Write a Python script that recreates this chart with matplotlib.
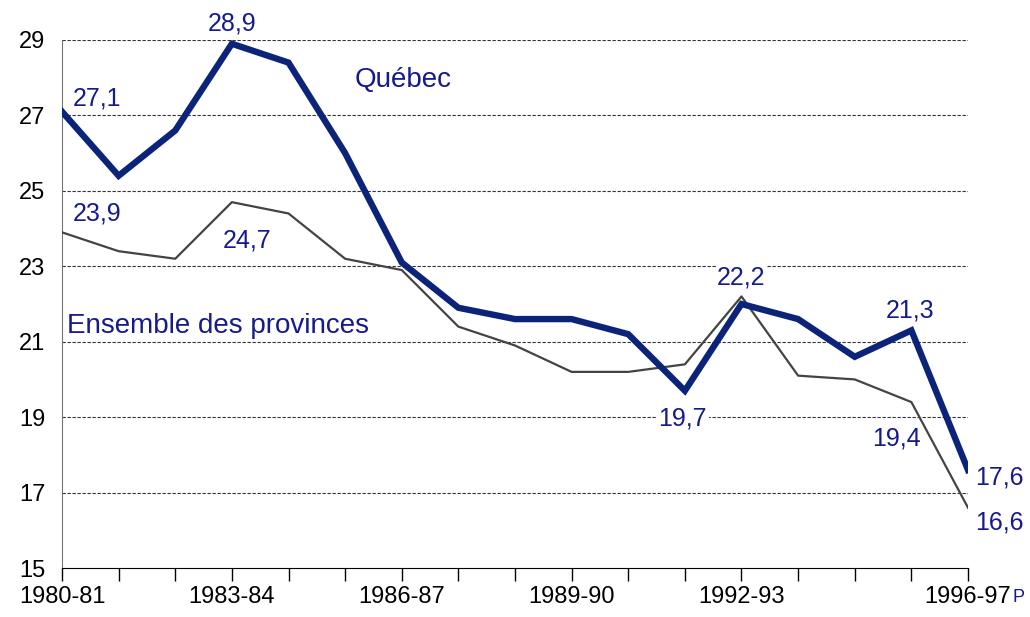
import matplotlib
matplotlib.use("Agg")
import matplotlib.pyplot as plt
import numpy as np

plt.rcParams['font.family'] = ['Liberation Sans', 'DejaVu Sans']

# données
annees = ['1980-81', '1981-82', '1982-83', '1983-84', '1984-85', '1985-86',
          '1986-87', '1987-88', '1988-89', '1989-90', '1990-91', '1991-92',
          '1992-93', '1993-94', '1994-95', '1995-96', '1996-97']
quebec = [27.1, 25.4, 26.6, 28.9, 28.4, 26.0, 23.1, 21.9, 21.6, 21.6,
          21.2, 19.7, 22.0, 21.6, 20.6, 21.3, 17.6]
ensemble = [23.9, 23.4, 23.2, 24.7, 24.4, 23.2, 22.9, 21.4, 20.9, 20.2,
            20.2, 20.4, 22.2, 20.1, 20.0, 19.4, 16.6]
tick_labels = ['1980-81', '', '', '1983-84', '', '', '1986-87', '', '',
               '1989-90', '', '', '1992-93', '', '', '', '1996-97']

navy_line = '#0b2479'
navy_text = '#161a8a'
gray_line = '#444444'

x = np.arange(len(annees))

fig = plt.figure(figsize=(10.3, 6.17), dpi=100)
ax = fig.add_axes([0.0602, 0.0794, 0.8796, 0.8558])

ax.plot(x, ensemble, color=gray_line, lw=1.6, zorder=3)
ax.plot(x, quebec, color=navy_line, lw=4.6, zorder=4, solid_joinstyle='miter')

ax.set_xlim(0, len(annees) - 1)
ax.set_ylim(15, 29)
ax.set_yticks(np.arange(15, 30, 2))
ax.set_xticks(x)
ax.set_xticklabels(tick_labels)

for y in range(17, 30, 2):
    ax.axhline(y, color='#333333', lw=0.8, ls=(0, (3, 1.5)), zorder=1)

for s in ['top', 'right']:
    ax.spines[s].set_visible(False)
ax.spines['left'].set_color('#777777')
ax.spines['bottom'].set_color('black')

ax.tick_params(axis='x', direction='out', length=9, width=1, pad=4,
               labelsize=17)
ax.tick_params(axis='y', length=0, pad=12, labelsize=17)

# étiquettes de valeurs
def lab(txt, i, v, dx, dy, bg=False, ha='center'):
    t = ax.annotate(txt, xy=(i, v), xytext=(dx, dy), textcoords='offset pixels',
                    ha=ha, va='center', fontsize=18, color=navy_text, zorder=5)
    if bg:
        t.set_bbox(dict(facecolor='white', edgecolor='none', pad=1))

lab('27,1', 0, quebec[0], 35, 13)
lab('28,9', 3, quebec[3], 0, 20)
lab('23,9', 0, ensemble[0], 35, 19)
lab('24,7', 3, ensemble[3], 15, -38)
lab('22,2', 12, ensemble[12], 0, 19, bg=True)
lab('19,7', 11, quebec[11], -2, -28, bg=True)
lab('21,3', 15, quebec[15], -1, 20)
lab('19,4', 15, ensemble[15], -15, -36)
lab('17,6', 16, quebec[16], 31, -8)
lab('16,6', 16, ensemble[16], 31, -15)

ax.text(0.376, 0.924, 'Québec', transform=ax.transAxes, fontsize=20,
        color=navy_text, ha='center', va='center')
ax.text(0.005, 0.458, 'Ensemble des provinces', transform=ax.transAxes,
        fontsize=20, color=navy_text, ha='left', va='center')
fig.text(1012 / 1030, 1 - 598 / 617, 'P', fontsize=13,
         color=navy_text, ha='left', va='center')

fig.savefig('out.png', dpi=100)
